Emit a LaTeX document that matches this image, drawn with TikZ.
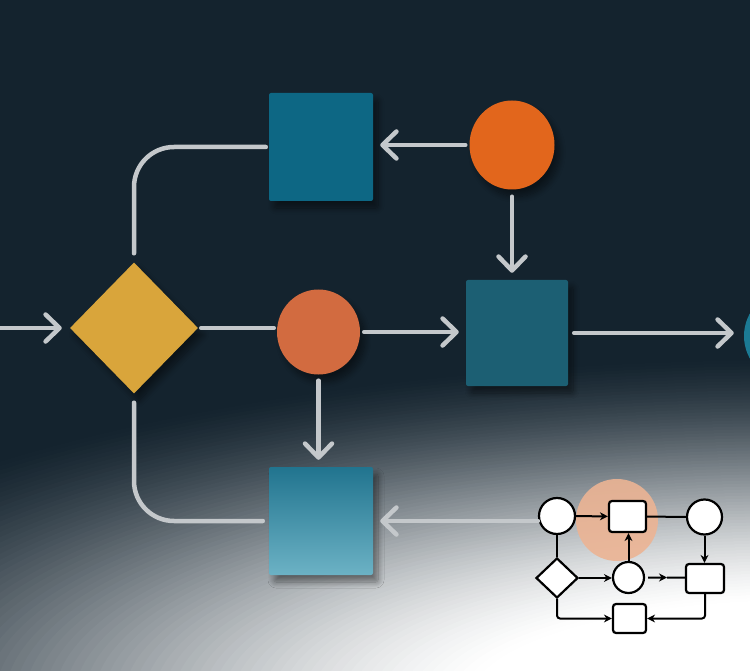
\documentclass[tikz,border=0pt]{standalone}
\usetikzlibrary{shapes.geometric,arrows.meta,shadows.blur,calc}
\definecolor{bgnavy}{RGB}{20,35,46}
\definecolor{glinec}{RGB}{196,200,203}
\definecolor{tealA}{RGB}{13,103,132}
\definecolor{tealB}{RGB}{28,95,115}
\definecolor{tealCtop}{RGB}{33,116,143}
\definecolor{tealCbot}{RGB}{108,178,197}
\definecolor{tealR}{RGB}{27,122,148}
\definecolor{orA}{RGB}{226,102,28}
\definecolor{orB}{RGB}{210,107,64}
\definecolor{mustard}{RGB}{217,165,59}
\definecolor{peach}{RGB}{236,180,148}
\tikzset{
  shad/.style={blur shadow={shadow xshift=5pt, shadow yshift=-7pt, shadow blur steps=10, shadow opacity=45, shadow blur radius=6pt}},
  bigsq/.style={rectangle, rounded corners=2pt, inner sep=0pt, shad},
  bigcirc/.style={ellipse, inner sep=0pt, shad},
  gl/.style={draw=glinec, line width=4.5pt, line cap=round, line join=round},
  ga/.style={gl, -{Straight Barb[length=14pt,width=27pt,round]}},
  ib/.style={draw=black, line width=2.2pt, fill=white, inner sep=0pt},
  il/.style={draw=black, line width=2pt},
  ia/.style={il, -{Stealth[length=8pt,width=8pt]}},
}
\begin{document}
\begin{tikzpicture}[x=1pt,y=-1pt]
\useasboundingbox (0,0) rectangle (750,671);
\clip (0,0) rectangle (750,671);
% background: navy with an elliptical fade to white at the bottom right
\fill[bgnavy] (0,0) rectangle (750,671);
\foreach \k in {0,...,79}{
  \pgfmathsetmacro\rr{340-3*\k}
  \pgfmathsetmacro\rx{3.3*\rr}
  \pgfmathsetmacro\tv{(\k+0.5)/80}
  \pgfmathsetmacro\pct{50*\tv*\tv*(3-2*\tv)+50*\tv}
  \fill[white!\pct!bgnavy] (800,700) ellipse [x radius=\rx pt, y radius=\rr pt];
}
\fill[white] (800,700) ellipse [x radius=330pt, y radius=100pt];

% inset glow
\node[circle, fill=peach, opacity=0.9, minimum size=82pt, inner sep=0pt] (glow) at (617,520) {};

% big shapes
\node[bigsq, fill=tealA, minimum width=104pt, minimum height=108pt] (sq1) at (321,147) {};
\node[bigcirc, fill=orA, minimum width=85pt, minimum height=89pt] (c1) at (512,145) {};
\node[diamond, inner sep=0pt, fill=mustard, minimum width=128pt, minimum height=131pt, shad] (dia) at (134,328) {};
\node[bigcirc, fill=orB, minimum width=83pt, minimum height=85pt] (c2) at (318.5,332) {};
\node[bigsq, fill=tealB, minimum width=102pt, minimum height=106pt] (sq2) at (517,333) {};
\node[circle, inner sep=0pt, fill=tealR, minimum size=92pt] (cR) at (790,336) {};
\node[bigsq, top color=tealCtop, bottom color=tealCbot, minimum width=104pt, minimum height=108pt] (sq3) at (321,521) {};

% inset shapes
\node[ib, circle, minimum size=36pt] (A) at (557,516) {};
\node[ib, rectangle, rounded corners=3pt, minimum width=37pt, minimum height=31pt] (B) at (627.5,516.5) {};
\node[ib, circle, minimum size=35pt] (C) at (704.5,517) {};
\node[ib, diamond, minimum width=42pt, minimum height=40pt] (D) at (557,578) {};
\node[ib, circle, minimum size=31pt] (E) at (628.5,577.5) {};
\node[ib, rectangle, rounded corners=3pt, minimum width=38pt, minimum height=29pt] (F) at (705,578.5) {};
\node[ib, rectangle, rounded corners=3pt, minimum width=33pt, minimum height=29pt] (G) at (629.5,618.5) {};

% gray connectors
\coordinate (inL) at (-5,328);
\draw[ga, shorten >=8pt] (inL) -- (dia.west);
\draw[gl, shorten <=3pt, shorten >=3pt] (dia.east) -- (dia.east -| c2.west);
\draw[ga, shorten <=4pt, shorten >=7pt] (c2.east) -- (c2.east -| sq2.west);
\draw[ga, shorten <=6pt, shorten >=10pt] (sq2.east) -- (sq2.east -| cR.west);
\draw[ga, shorten <=4pt, shorten >=7pt] (c1.west) -- (c1.west -| sq1.east);
\draw[ga, shorten <=7pt, shorten >=7pt] (c1.south) -- (c1.south |- sq2.north);
\draw[ga, shorten <=6pt, shorten >=7pt] (c2.south) -- (c2.south |- sq3.north);
\draw[gl, rounded corners=40pt] ([xshift=-3pt]sq1.west) -| ([yshift=9pt]dia.north);
\draw[gl, rounded corners=40pt] ([yshift=-9pt]dia.south) |- ([xshift=-6pt]sq3.west);
\draw[ga, shorten >=7pt] (A.west |- sq3.east) -- (sq3.east);

% inset connectors
\draw[ia] (A) -- (B);
\draw[il] (B) -- (C);
\draw[ia] (C.south) -- (C.south |- F.north);
\draw[il] (A.south) -- (A.south |- D.north);
\draw[ia] (D.east) -- (D.east -| E.west);
\draw[ia] (E.north) -- (E.north |- B.south);
\coordinate (EF) at ($(E.east)!0.55!(E.east -| F.west)$);
\draw[ia, shorten <=3pt] (E.east) -- (EF);
\draw[il] (EF) -- (E.east -| F.west);
\draw[ia, rounded corners=3pt] (D.south) |- (G.west);
\draw[ia, rounded corners=3pt] (F.south) |- (G.east);
\end{tikzpicture}
\end{document}
